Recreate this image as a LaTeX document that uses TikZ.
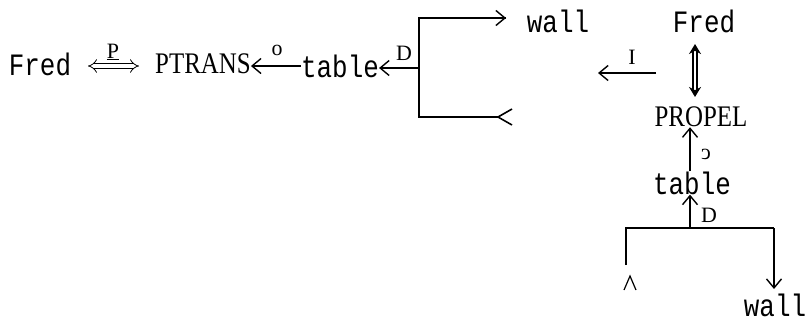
\documentclass[tikz,border=0pt]{standalone}
\usepackage{fontspec}
\setmainfont{Liberation Serif}
\newfontfamily\monof{Liberation Mono}
\usetikzlibrary{arrows.meta}
\newcommand{\tallw}[1]{\scalebox{1}[1.2]{#1}}
\begin{document}
\begin{tikzpicture}[x=1bp,y=-1bp,
  word/.style={font=\monof\fontsize{26}{26}\selectfont, inner sep=0pt, anchor=center},
  act/.style={font=\fontsize{25}{25}\selectfont, inner sep=0pt},
  lab/.style={font=\fontsize{22}{22}\selectfont, inner sep=0pt},
  ln/.style={line width=1.6bp},
  arr/.style={ln, -{Straight Barb[length=9bp,width=15bp,line width=1.4bp]}},
]
\useasboundingbox (0,0) rectangle (811,321);
% left chain
\node[word] (fredL) at (40,64) {\tallw{Fred}};
\node[act] (ptrans) at (203,64) {\tallw{PTRANS}};
\node[word] (table1) at (340,66) {\tallw{table}};
\draw[line width=0.8bp, double distance=4bp, {Implies[length=6bp]}-{Implies[length=6bp]}] (88,66) -- (139,66);
\node[lab] (p) at (113,52) {\underline{P}};
\draw[arr] (table1.west) -- (ptrans.east |- table1.west);
\node[lab] (o1) at (277,50) {o};
% bracket
\coordinate (bt) at (419,18);
\coordinate (bb) at (419,117);
\coordinate (bm) at (419,68);
\coordinate (tt) at (506,18);
\coordinate (be) at (498,117);
\draw[ln] (tt) -- (bt) -- (bb) -- (be);
\draw[arr] (bt) -- (tt);
\draw[ln] (512,109) -- (be) -- (512,125);
\draw[arr] (bm) -- (bm -| table1.east);
\node[lab] (d1) at (404,53) {D};
\node[word] (wall1) at (558,21) {\tallw{wall}};
% instrument arrow
\coordinate (is) at (656,73);
\coordinate (ie) at (598,73);
\draw[arr] (is) -- (ie);
\node[lab] (i) at (632,57) {I};
% right chain
\node[word] (fredR) at (704,21) {\tallw{Fred}};
\node[act] (propel) at (701,117) {\tallw{PROPEL}};
\draw[line width=1.8bp, double distance=2.5bp, {Stealth[length=10bp,width=12bp]}-{Stealth[length=10bp,width=12bp]}] (695,44) -- (695,97);
\node[word] (table2) at (692,183) {\tallw{table}};
\coordinate (bar) at (690,228);
\draw[arr] (table2.north -| bar) -- (propel.south -| bar);
\node[lab] (o2) at (706,154) {\reflectbox{c}};
\draw[arr] (bar) -- (table2.south -| bar);
\node[lab] (d2) at (709,215) {D};
\coordinate (bl) at (626,228);
\coordinate (br) at (774,228);
\coordinate (blb) at (626,265);
\coordinate (brb) at (774,289);
\draw[ln] (blb) -- (bl) -- (br);
\draw[arr] (br) -- (brb);
\draw[line width=1.2bp] (624,290) -- (630,276) -- (636,290);
\node[word] (wall2) at (775,305) {\tallw{wall}};
\end{tikzpicture}
\end{document}
